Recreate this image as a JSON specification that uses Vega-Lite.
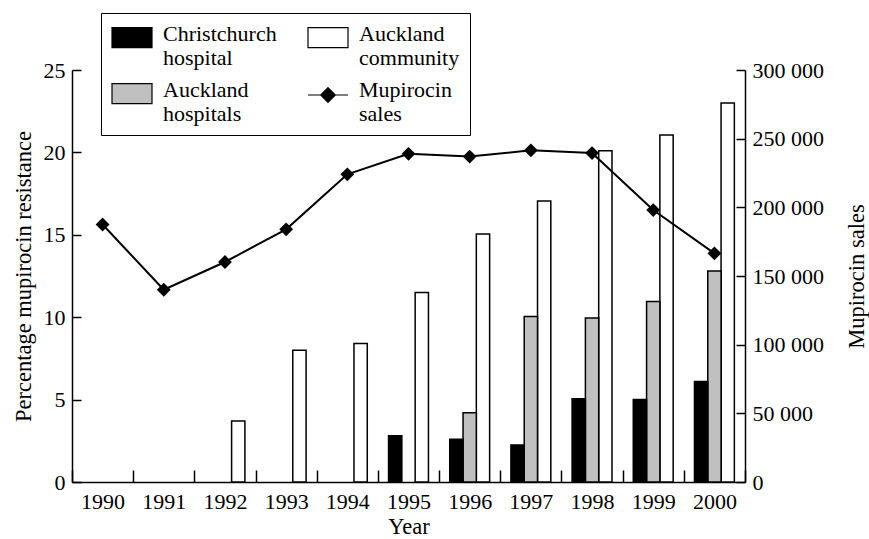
{
  "$schema": "https://vega.github.io/schema/vega-lite/v6.json",
  "autosize": "none",
  "width": 673,
  "height": 412,
  "padding": {"left": 72, "top": 70, "right": 124, "bottom": 57},
  "background": "white",
  "config": {
    "view": {"stroke": null},
    "font": "Liberation Serif",
    "axis": {
      "labelFont": "Liberation Serif",
      "titleFont": "Liberation Serif",
      "labelFontSize": 22,
      "titleFontSize": 22.5,
      "titleFontWeight": "normal",
      "labelColor": "black",
      "titleColor": "black",
      "domainColor": "black",
      "tickColor": "black",
      "domainWidth": 1.5,
      "tickWidth": 1.5,
      "grid": false
    },
    "legend": {
      "labelFont": "Liberation Serif",
      "labelFontSize": 22,
      "labelColor": "black",
      "labelLimit": 300
    }
  },
  "datasets": {
    "bars": [
      {"year": 1992, "series": "Auckland community", "pct": 3.7},
      {"year": 1993, "series": "Auckland community", "pct": 8.0},
      {"year": 1994, "series": "Auckland community", "pct": 8.4},
      {"year": 1995, "series": "Auckland community", "pct": 11.5},
      {"year": 1996, "series": "Auckland community", "pct": 15.05},
      {"year": 1997, "series": "Auckland community", "pct": 17.05},
      {"year": 1998, "series": "Auckland community", "pct": 20.1},
      {"year": 1999, "series": "Auckland community", "pct": 21.05},
      {"year": 2000, "series": "Auckland community", "pct": 23.0},
      {"year": 1996, "series": "Auckland hospitals", "pct": 4.2},
      {"year": 1997, "series": "Auckland hospitals", "pct": 10.05},
      {"year": 1998, "series": "Auckland hospitals", "pct": 9.95},
      {"year": 1999, "series": "Auckland hospitals", "pct": 10.95},
      {"year": 2000, "series": "Auckland hospitals", "pct": 12.8},
      {"year": 1995, "series": "Christchurch hospital", "pct": 2.8},
      {"year": 1996, "series": "Christchurch hospital", "pct": 2.6},
      {"year": 1997, "series": "Christchurch hospital", "pct": 2.25},
      {"year": 1998, "series": "Christchurch hospital", "pct": 5.05},
      {"year": 1999, "series": "Christchurch hospital", "pct": 5.0},
      {"year": 2000, "series": "Christchurch hospital", "pct": 6.1}
    ],
    "sales": [
      {"year": 1990, "sales": 187500},
      {"year": 1991, "sales": 140000},
      {"year": 1992, "sales": 160200},
      {"year": 1993, "sales": 184000},
      {"year": 1994, "sales": 224000},
      {"year": 1995, "sales": 239000},
      {"year": 1996, "sales": 237000},
      {"year": 1997, "sales": 241500},
      {"year": 1998, "sales": 239500},
      {"year": 1999, "sales": 198000},
      {"year": 2000, "sales": 166500}
    ],
    "legendItems": [
      {"series": "Christchurch hospital"},
      {"series": "Auckland hospitals"},
      {"series": "Auckland community"},
      {"series": "Mupirocin sales"}
    ]
  },
  "layer": [
    {
      "data": {"name": "bars"},
      "mark": {"type": "bar", "stroke": "black", "strokeWidth": 1.5},
      "encoding": {
        "x": {
          "field": "year",
          "type": "ordinal",
          "scale": {"domain": [1990,1991,1992,1993,1994,1995,1996,1997,1998,1999,2000], "paddingInner": 0, "paddingOuter": 0},
          "axis": {
            "title": "Year",
            "labelAngle": 0,
            "tickBand": "extent",
            "tickSize": -12,
            "labelPadding": 21,
            "titlePadding": 3
          }
        },
        "xOffset": {
          "field": "series",
          "type": "nominal",
          "scale": {"domain": ["Christchurch hospital", "Auckland hospitals", "Auckland community"], "paddingInner": 0, "paddingOuter": 0.8}
        },
        "y": {
          "field": "pct",
          "type": "quantitative",
          "scale": {"domain": [0, 25], "nice": false},
          "axis": {
            "title": "Percentage mupirocin resistance",
            "values": [0, 5, 10, 15, 20, 25],
            "orient": "left",
            "tickSize": -9,
            "labelPadding": 16,
            "titlePadding": 8
          }
        },
        "fill": {
          "field": "series",
          "type": "nominal",
          "scale": {
            "domain": ["Christchurch hospital", "Auckland hospitals", "Auckland community", "Mupirocin sales"],
            "range": ["black", "#c0c0c0", "white", "black"]
          },
          "legend": {
            "title": null,
            "orient": "none",
            "legendX": 29,
            "legendY": -57,
            "direction": "vertical",
            "columns": 2,
            "strokeColor": "black",
            "fillColor": "white",
            "padding": 10,
            "symbolSize": 400,
            "symbolStrokeColor": "black",
            "symbolStrokeWidth": 1.2,
            "labelOffset": 30,
            "columnPadding": 28,
            "rowPadding": 10,
            "labelExpr": "split(datum.label, ' ')"
          }
        }
      }
    },
    {
      "data": {"name": "sales"},
      "encoding": {
        "x": {"field": "year", "type": "ordinal"},
        "y": {
          "field": "sales",
          "type": "quantitative",
          "scale": {"domain": [0, 300000], "nice": false},
          "axis": {
            "title": "Mupirocin sales",
            "orient": "right",
            "values": [0, 50000, 100000, 150000, 200000, 250000, 300000],
            "labelExpr": "replace(format(datum.value, ','), ',', ' ')",
            "tickSize": -9,
            "labelPadding": 16,
            "titlePadding": 22,
            "titleAngle": 270,
            "titleBaseline": "top"
          }
        }
      },
      "layer": [
        {"mark": {"type": "line", "color": "black", "strokeWidth": 2}},
        {"mark": {"type": "point", "shape": "diamond", "filled": true, "color": "black", "size": 190, "opacity": 1}}
      ]
    },
    {
      "data": {"name": "legendItems"},
      "transform": [{"filter": "datum.series == null"}],
      "mark": {"type": "point", "filled": true, "stroke": "black", "strokeWidth": 1.2, "opacity": 1},
      "encoding": {
        "fill": {"field": "series", "type": "nominal"},
        "shape": {
          "field": "series",
          "type": "nominal",
          "scale": {
            "domain": ["Christchurch hospital", "Auckland hospitals", "Auckland community", "Mupirocin sales"],
            "range": ["M-1,-0.64H3V1.36H-1Z", "M-1,-0.64H3V1.36H-1Z", "M-1,-0.64H3V1.36H-1Z", "M-1,0.5H3M1,-0.23L1.73,0.5L1,1.23L0.27,0.5Z"]
          },
          "legend": {"title": null}
        }
      }
    }
  ],
  "resolve": {"scale": {"y": "independent"}}
}
